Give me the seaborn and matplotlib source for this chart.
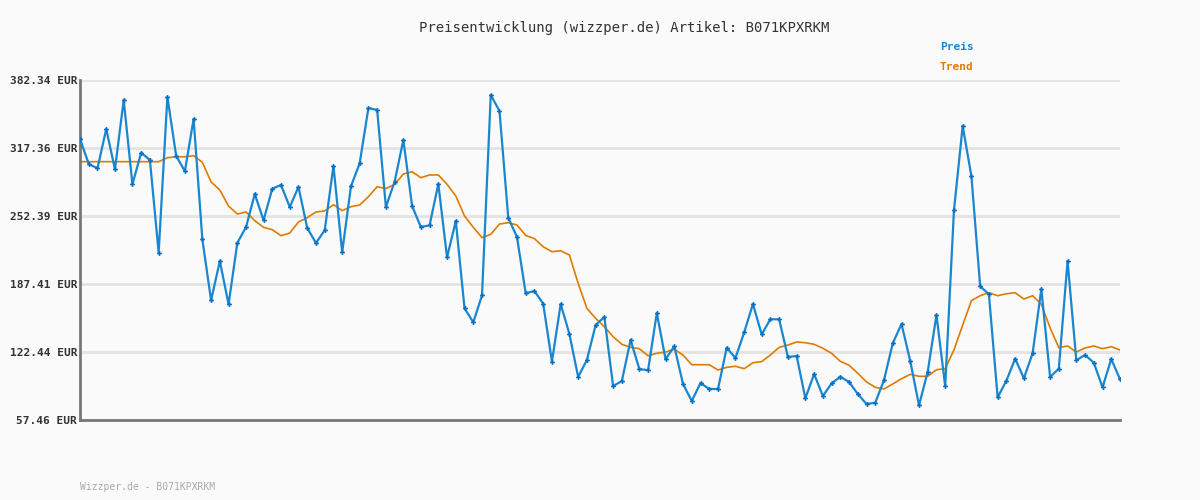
import matplotlib
matplotlib.use("Agg")
import matplotlib.pyplot as plt
import seaborn as sns
import pandas as pd
import numpy as np

title = "Preisentwicklung (wizzper.de) Artikel: B071KPXRKM"
footer = "Wizzper.de - B071KPXRKM"
series_names = ["Preis", "Trend"]
y_ticks = [57.46, 122.44, 187.41, 252.39, 317.36, 382.34]

preis = [
    326.0, 302.1, 297.9, 335.5, 297.0, 363.2, 282.7, 312.9, 305.9, 217.3,
    366.4, 310.0, 295.1, 345.1, 230.1, 171.8, 209.4, 168.0, 226.6, 241.9,
    273.4, 248.3, 278.5, 282.0, 261.0, 280.1, 240.9, 226.6, 238.7, 300.2,
    217.7, 280.7, 302.7, 355.6, 353.7, 261.0, 285.2, 325.0, 261.9, 241.9,
    243.5, 283.0, 212.9, 247.6, 164.2, 150.8, 176.6, 368.0, 352.7, 250.8,
    232.3, 178.5, 180.7, 168.6, 113.2, 168.3, 139.6, 98.6, 114.8, 148.2,
    155.9, 89.9, 94.7, 133.9, 106.2, 105.0, 159.7, 115.5, 127.9, 91.9,
    75.6, 92.8, 87.1, 87.1, 126.5, 116.7, 141.3, 168.3, 139.3, 153.7,
    153.7, 117.7, 118.6, 78.2, 101.4, 80.4, 92.5, 98.8, 93.8, 82.3,
    72.7, 74.0, 95.7, 130.8, 149.2, 113.8, 71.5, 103.6, 157.8, 89.7,
    257.8, 338.4, 290.3, 185.2, 177.6, 79.1, 95.0, 116.0, 97.3, 121.2,
    182.6, 98.6, 106.5, 209.4, 114.5, 119.6, 112.2, 88.7, 115.7, 96.4,
]

trend = [
    304.3, 304.3, 304.3, 304.3, 304.3, 304.3, 304.3, 304.3, 304.3, 304.3,
    308.1, 309.0, 309.0, 310.0, 303.7, 284.9, 277.2, 261.9, 254.3, 256.2,
    247.9, 241.6, 239.3, 233.6, 236.1, 246.7, 250.8, 256.2, 257.2, 263.2,
    257.5, 261.3, 262.9, 270.8, 280.4, 278.5, 282.7, 292.5, 294.7, 289.0,
    291.6, 291.6, 282.7, 271.5, 252.4, 241.6, 231.7, 234.9, 244.7, 246.0,
    243.8, 233.9, 230.7, 223.0, 218.3, 219.2, 215.1, 188.1, 164.2, 154.6,
    146.6, 137.1, 129.8, 126.9, 125.6, 118.9, 121.2, 122.4, 125.0, 119.6,
    110.3, 110.3, 110.3, 105.2, 107.8, 108.8, 106.5, 112.2, 113.2, 119.6,
    126.9, 129.1, 132.0, 131.3, 129.8, 126.0, 121.2, 113.5, 109.7, 102.1,
    93.8, 88.7, 87.1, 91.9, 96.9, 101.1, 99.2, 99.2, 105.5, 106.5,
    124.4, 148.2, 171.5, 176.2, 179.1, 176.2, 178.1, 179.1, 173.1, 176.2,
    168.0, 145.6, 126.5, 128.2, 122.4, 126.3, 128.2, 125.6, 127.5, 124.4,
]

blue = "#1a86d0"
orange = "#e07b00"
bg = "#fafafa"

df = pd.DataFrame({"idx": range(len(preis)), "Preis": preis, "Trend": trend})

sns.set_style("white")
plt.rcParams["font.family"] = ["DejaVu Sans Mono", "DejaVu Sans"]

fig = plt.figure(figsize=(12, 5), dpi=100, facecolor=bg)
ax = fig.add_axes([80 / 1200, 80 / 500, 1040 / 1200, 340 / 500])
ax.set_facecolor(bg)

sns.lineplot(data=df, x="idx", y="Preis", ax=ax, color=blue, linewidth=1.6,
             marker="P", markersize=3.5, markeredgewidth=0, markerfacecolor="#0a6fc0",
             zorder=3)
sns.lineplot(data=df, x="idx", y="Trend", ax=ax, color=orange, linewidth=1.2, zorder=2)

ax.set_xlim(0, len(preis) - 1)
ax.set_ylim(y_ticks[0], y_ticks[-1])
ax.set_yticks(y_ticks)
ax.set_yticklabels([f"{v:.2f} EUR" for v in y_ticks], fontsize=8, fontweight="bold", color="#333333")
ax.set_xticks([])
ax.set_xlabel("")
ax.set_ylabel("")
ax.tick_params(axis="y", length=0, pad=2)
ax.grid(axis="y", color="#e3e3e3", linewidth=2, zorder=0)
ax.set_axisbelow(True)
for s in ["top", "right"]:
    ax.spines[s].set_visible(False)
for s in ["left", "bottom"]:
    ax.spines[s].set_color("#777777")
    ax.spines[s].set_linewidth(2)

fig.text(624 / 1200, 1 - 28 / 500, title, ha="center", va="center", fontsize=10, color="#333333")
fig.text(940 / 1200, 1 - 47 / 500, series_names[0], ha="left", va="center", fontsize=8,
         fontweight="bold", color=blue)
fig.text(940 / 1200, 1 - 67 / 500, series_names[1], ha="left", va="center", fontsize=8,
         fontweight="bold", color=orange)
fig.text(80 / 1200, 1 - 487 / 500, footer, ha="left", va="center", fontsize=7, color="#aaaaaa")

fig.savefig("out.png", dpi=100, facecolor=bg)
